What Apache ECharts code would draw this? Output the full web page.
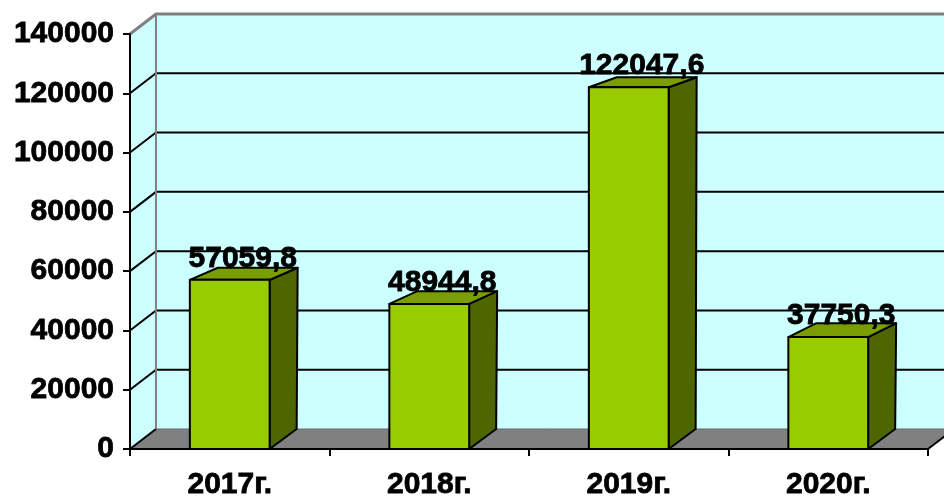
<!DOCTYPE html>
<html>
<head>
<meta charset="utf-8">
<script src="https://cdn.jsdelivr.net/npm/echarts@6/dist/echarts.min.js"></script>
<style>
html,body{margin:0;padding:0;background:#fff;}
#chart{width:944px;height:497px;}
</style>
</head>
<body>
<div id="chart"></div>
<script>
const categories = ['2017г.', '2018г.', '2019г.', '2020г.'];
const values = [57059.8, 48944.8, 122047.6, 37750.3];
const yTicks = [0, 20000, 40000, 60000, 80000, 100000, 120000, 140000];

const FONT = '"Liberation Sans", Arial, sans-serif';
const WALL_DX = 26, WALL_DY = -20;

const chart = echarts.init(document.getElementById('chart'));

function renderWalls(params, api) {
  const cs = params.coordSys;
  const x0 = cs.x, x1 = cs.x + cs.width;
  const yBottom = api.coord([0, yTicks[0]])[1];
  const yTop = api.coord([0, yTicks[yTicks.length - 1]])[1];
  const bx0 = x0 + WALL_DX, bx1 = x1 + WALL_DX;
  const children = [];
  children.push({type: 'polygon', shape: {points: [[bx0, yTop + WALL_DY], [bx1 + 40, yTop + WALL_DY], [bx1 + 40, yBottom + WALL_DY], [bx0, yBottom + WALL_DY]]},
    style: {fill: '#CCFFFF', stroke: null}});
  children.push({type: 'polygon', shape: {points: [[x0, yTop], [bx0, yTop + WALL_DY], [bx0, yBottom + WALL_DY], [x0, yBottom]]},
    style: {fill: '#CCFFFF', stroke: null}});
  for (let i = 1; i < yTicks.length - 1; i++) {
    const y = api.coord([0, yTicks[i]])[1];
    children.push({type: 'polyline', shape: {points: [[x0, y], [bx0, y + WALL_DY], [bx1 + 40, y + WALL_DY]]},
      style: {stroke: '#000', lineWidth: 2, fill: null}});
  }
  children.push({type: 'polygon', shape: {points: [[x0, yBottom], [bx0, yBottom + WALL_DY], [bx1, yBottom + WALL_DY], [x1, yBottom]]},
    style: {fill: '#808080', stroke: null}});
  children.push({type: 'line', shape: {x1: bx0, y1: yBottom + WALL_DY, x2: bx1 + 40, y2: yBottom + WALL_DY}, style: {stroke: '#6a6a6a', lineWidth: 1}});
  children.push({type: 'line', shape: {x1: x0, y1: yBottom, x2: bx0, y2: yBottom + WALL_DY}, style: {stroke: '#000', lineWidth: 2}});
  children.push({type: 'line', shape: {x1: x1, y1: yBottom, x2: bx1, y2: yBottom + WALL_DY}, style: {stroke: '#000', lineWidth: 2}});
  children.push({type: 'polyline', shape: {points: [[x0, yTop], [bx0, yTop + WALL_DY], [bx1 + 40, yTop + WALL_DY]]},
    style: {stroke: '#808080', lineWidth: 3, fill: null}});
  children.push({type: 'line', shape: {x1: bx0, y1: yTop + WALL_DY, x2: bx0, y2: yBottom + WALL_DY}, style: {stroke: '#808080', lineWidth: 2}});
  return {type: 'group', children: children};
}

function renderBar(params, api) {
  const idx = api.value(0);
  const val = api.value(1);
  const top = api.coord([idx, val]);
  const base = api.coord([idx, 0]);
  const cs = params.coordSys;
  const w = api.size([1, 0])[0] * 0.4;
  const xa = top[0] - w / 2, xb = top[0] + w / 2;
  const yt = top[1], y0 = base[1];
  const t = (yt - cs.y) / cs.height;
  const dyT = -10 - 10 * Math.pow(t, 3);
  const dxT = 28, dxB = 27, dyB = -20;
  const stroke = {stroke: '#000', lineWidth: 2, lineJoin: 'round'};
  return {type: 'group', children: [
    {type: 'polygon', shape: {points: [[xb, yt], [xb + dxT, yt + dyT], [xb + dxB, y0 + dyB], [xb, y0]]},
      style: Object.assign({fill: '#4D6600'}, stroke)},
    {type: 'polygon', shape: {points: [[xa, yt], [xa + dxT, yt + dyT], [xb + dxT, yt + dyT], [xb, yt]]},
      style: Object.assign({fill: '#7A9E00'}, stroke)},
    {type: 'rect', shape: {x: xa, y: yt, width: w, height: y0 - yt},
      style: Object.assign({fill: '#99CC00'}, stroke)},
    {type: 'text', x: top[0] + 13, y: yt - 21, z2: 10,
      style: {text: String(val).replace('.', ','), font: 'bold 30px ' + FONT, fill: '#000',
        stroke: '#000', lineWidth: 0.8, align: 'center', verticalAlign: 'middle'}}
  ]};
}

const labelStyle = {color: '#000', fontFamily: FONT, fontWeight: 'bold', fontSize: 30, textBorderColor: '#000', textBorderWidth: 0.8};

chart.setOption({
  animation: false,
  backgroundColor: '#fff',
  grid: {left: 130, right: 16, top: 34, bottom: 48, containLabel: false, outerBoundsMode: 'none'},
  xAxis: {
    type: 'category', data: categories, z: 10,
    axisLine: {lineStyle: {color: '#000', width: 2}},
    axisTick: {show: true, length: 7, lineStyle: {color: '#000', width: 2}},
    axisLabel: Object.assign({margin: 21}, labelStyle)
  },
  yAxis: {
    type: 'value', min: yTicks[0], max: yTicks[yTicks.length - 1], interval: 20000, z: 10,
    axisLine: {show: true, lineStyle: {color: '#000', width: 2}},
    axisTick: {show: true, length: 7, lineStyle: {color: '#000', width: 2}},
    splitLine: {show: false},
    axisLabel: Object.assign({margin: 16, formatter: v => String(v)}, labelStyle)
  },
  series: [
    {type: 'custom', z: 1, clip: false, silent: true, data: [[0, 0]], renderItem: renderWalls},
    {type: 'custom', z: 2, clip: false, data: values.map((v, i) => [i, v]), renderItem: renderBar}
  ]
});
</script>
</body>
</html>
